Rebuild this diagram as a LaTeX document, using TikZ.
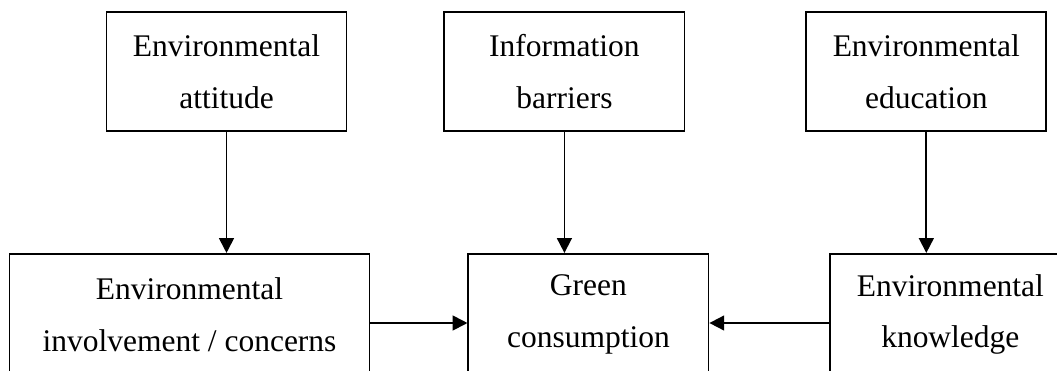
\documentclass[tikz,border=0pt]{standalone}
\usepackage{fontspec}
\setmainfont{Liberation Serif}
\usetikzlibrary{arrows.meta,positioning}

\begin{document}
\begin{tikzpicture}[x=0.025cm,y=-0.025cm,line width=1.3pt,>={Triangle[length=10.5pt,width=10.5pt]},
	box node/.style={rectangle,draw,align=center,inner sep=0pt,minimum width=6cm,minimum height=2.975cm,font=\fontsize{22.4}{36.8}\selectfont}]
	\useasboundingbox (0,0) rectangle (1057,370);
	\clip (0,0) rectangle (1057,370);
	% top row
	\node[box node] (1) at (226.5,71.5) {Environmental\\attitude};
	\node[box node] (2) [right=2.4cm of 1] {Information\\barriers};
	\node[box node] (3) [right=3cm of 2] {Environmental\\education};
	% bottom row
	\node[box node,minimum height=3.025cm] (5) [below=3.025cm of 2,xshift=0.6cm] {Green\\consumption};
	\node[box node,minimum height=3.025cm,minimum width=9cm] (4) [left=2.425cm of 5] {Environmental\\involvement / concerns};
	\node[box node,minimum height=3.025cm] (6) [right=3cm of 5] {Environmental\\knowledge};
	\coordinate (m) at (0,323);
	
	\path[->]
	(1.south) edge (1.south |- 4.north)
	(2.south) edge (2.south |- 5.north)
	(3.south) edge (3.south |- 6.north)
	(4.east |- m) edge (5.west |- m)
	(6.west |- m) edge (5.east |- m)
	;
\end{tikzpicture}
\end{document}
